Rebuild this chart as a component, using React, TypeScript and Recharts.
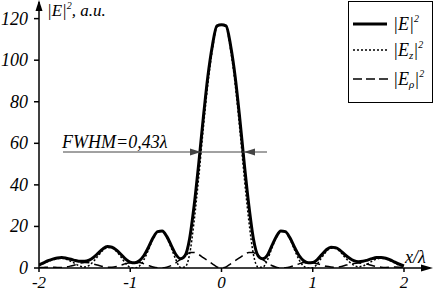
import { LineChart, Line, XAxis, YAxis } from 'recharts'

// x / lambda
const X = [
  -2, -1.95, -1.9, -1.85, -1.8, -1.75, -1.7, -1.65, -1.6, -1.55,
  -1.5, -1.45, -1.4, -1.35, -1.3, -1.25, -1.2, -1.15, -1.1, -1.05,
  -1, -0.95, -0.9, -0.85, -0.8, -0.75, -0.7, -0.65, -0.6, -0.55,
  -0.5, -0.45, -0.4, -0.35, -0.3, -0.25, -0.2, -0.15, -0.1, -0.05,
  0,
  0.05, 0.1, 0.15, 0.2, 0.25, 0.3, 0.35, 0.4, 0.45, 0.5,
  0.55, 0.6, 0.65, 0.7, 0.75, 0.8, 0.85, 0.9, 0.95, 1,
  1.05, 1.1, 1.15, 1.2, 1.25, 1.3, 1.35, 1.4, 1.45, 1.5,
  1.55, 1.6, 1.65, 1.7, 1.75, 1.8, 1.85, 1.9, 1.95, 2,
]

// |E|^2
const E_TOTAL = [
  1.5, 2.5, 3.5, 4.3, 4.8, 5, 4.7, 4.2, 3.6, 3.2,
  3.2, 3.8, 5.2, 7.2, 9.2, 10.3, 10, 8.6, 6.5, 4.3,
  2.8, 2.5, 3.5, 6, 10, 14.5, 17.5, 17.8, 15.2, 10.8,
  6.5, 4.5, 6, 14, 30, 50, 72, 92, 107, 116.5,
  117,
  116.5, 107, 92, 72, 50, 30, 14, 6, 4.5, 6,
  10.5, 15, 17.8, 17.5, 14.5, 10, 6, 3.5, 2.5, 2.6,
  4, 6.5, 8.8, 10, 9.8, 8.5, 6.5, 4.8, 3.5, 3,
  3.2, 3.8, 4.5, 5, 5.1, 4.7, 3.9, 2.8, 1.8, 1,
]

// |Ez|^2
const E_Z = [
  1.3, 2.2, 3.1, 3.9, 4.5, 4.7, 4.2, 3.2, 2, 0.9,
  0.5, 1.3, 3.3, 5.9, 8.5, 9.9, 9.6, 7.9, 5.2, 2.2,
  0.3, 0, 0.9, 4, 8.8, 14, 17.4, 17.8, 14.8, 9.6,
  4, 0.3, 0.5, 6.5, 22.5, 43.5, 67, 88.5, 105, 116,
  117,
  116, 105, 88.5, 67, 43.5, 22.5, 6.5, 0.5, 0.3, 3.5,
  9.3, 14.6, 17.8, 17.4, 14, 8.8, 4, 0.9, 0, 0.1,
  2, 5.1, 8, 9.5, 9.4, 7.9, 5.3, 3, 1.3, 0.6,
  1, 2, 3.3, 4.3, 4.7, 4.4, 3.5, 2.3, 1.4, 0.8,
]

// |Erho|^2
const E_RHO = [
  0.2, 0.3, 0.4, 0.4, 0.3, 0.3, 0.5, 1, 1.6, 2.3,
  2.7, 2.5, 1.9, 1.3, 0.7, 0.4, 0.4, 0.7, 1.3, 2.1,
  2.5, 2.5, 2.6, 2, 1.2, 0.5, 0.1, 0, 0.4, 1.2,
  2.5, 4.2, 5.5, 7.5, 7.5, 6.5, 5, 3.5, 2, 0.5,
  0,
  0.5, 2, 3.5, 5, 6.5, 7.5, 7.5, 5.5, 4.2, 2.5,
  1.2, 0.4, 0, 0.1, 0.5, 1.2, 2, 2.6, 2.5, 2.5,
  2, 1.4, 0.8, 0.5, 0.4, 0.6, 1.2, 1.8, 2.2, 2.4,
  2.2, 1.8, 1.2, 0.7, 0.4, 0.3, 0.4, 0.5, 0.4, 0.2,
]

const X_TICKS = [-2, -1, 0, 1, 2]
const Y_TICKS = [0, 20, 40, 60, 80, 100, 120]

const data = X.map((x, i) => ({ x, e: E_TOTAL[i], ez: E_Z[i], er: E_RHO[i] }))

const serif = { fontFamily: '"Liberation Serif", "Times New Roman", Times, serif', fontStyle: 'italic' }

function XTick(props: any) {
  const { x, y, payload } = props
  return (
    <g>
      <text x={x} y={y + 11} textAnchor="middle" fontSize={17} fill="#000" style={serif}>
        {payload.value}
      </text>
    </g>
  )
}

function YTick(props: any) {
  const { x, y, payload } = props
  return (
    <g>
      <text x={x} y={y + 6} textAnchor="end" fontSize={18} fill="#000" style={serif}>
        {payload.value}
      </text>
    </g>
  )
}

function Overlay() {
  return (
    <svg
      width={434}
      height={292}
      style={{ position: 'absolute', left: 0, top: 0, pointerEvents: 'none' }}
    >
      {/* axis arrows */}
      <polygon points="39,0 35.5,11 42.5,11" fill="#000" />
      <polygon points="433,268 421,264.5 421,271.5" fill="#000" />

      <text x={47} y={16} fontSize={17} fill="#000" style={serif}>
        |E|<tspan dy={-7} fontSize={10}>2</tspan>
        <tspan dy={7}>, a.u.</tspan>
      </text>
      <text x={405} y={263} fontSize={18} fill="#000" style={serif}>x/λ</text>

      {/* FWHM marker */}
      <text x={62} y={148} fontSize={18} fill="#000" style={serif}>FWHM=0,43λ</text>
      <line x1={63} y1={152} x2={267} y2={152} stroke="#444" strokeWidth={1} />
      <polygon points="201,152 190,148.5 190,155.5" fill="#444" />
      <polygon points="244,152 255,148.5 255,155.5" fill="#444" />

      {/* legend */}
      <rect x={348.5} y={1.5} width={84} height={101} fill="#fff" stroke="#000" strokeWidth={1} />
      <line x1={353} y1={24} x2={387} y2={24} stroke="#000" strokeWidth={3} />
      <line x1={353} y1={50} x2={387} y2={50} stroke="#000" strokeWidth={1.3} strokeDasharray="2 2" />
      <line x1={353} y1={79} x2={389} y2={79} stroke="#000" strokeWidth={1.5} strokeDasharray="9 4" />
      <text x={393} y={30} fontSize={18} fill="#000" style={serif}>
        |E|<tspan dy={-8} fontSize={10}>2</tspan>
      </text>
      <text x={393} y={56} fontSize={18} fill="#000" style={serif}>
        |E<tspan dy={3} fontSize={11}>z</tspan>
        <tspan dy={-3}>|</tspan>
        <tspan dy={-8} fontSize={10}>2</tspan>
      </text>
      <text x={393} y={85} fontSize={18} fill="#000" style={serif}>
        |E<tspan dy={3} fontSize={11}>ρ</tspan>
        <tspan dy={-3}>|</tspan>
        <tspan dy={-8} fontSize={10}>2</tspan>
      </text>
    </svg>
  )
}

export default function App() {
  return (
    <div style={{ position: 'absolute', left: 0, top: 0, width: 434, height: 292, background: '#fff', fontFamily: '"Liberation Serif", serif' }}>
      <LineChart
        width={434}
        height={292}
        data={data}
        margin={{ top: 2, right: 4, bottom: 0, left: 0 }}
      >
        <XAxis
          dataKey="x"
          type="number"
          domain={[-2, 2.285]}
          allowDataOverflow
          ticks={X_TICKS}
          tick={XTick}
          tickSize={4}
          tickMargin={5}
          height={24}
          stroke="#000"
          strokeWidth={1.5}
        />
        <YAxis
          type="number"
          domain={[0, 128]}
          allowDataOverflow
          ticks={Y_TICKS}
          tick={YTick}
          tickSize={5}
          tickMargin={6}
          width={39}
          stroke="#000"
          strokeWidth={1.5}
        />
        <Line
          type="monotone"
          dataKey="er"
          stroke="#000"
          strokeWidth={1.5}
          strokeDasharray="9 5"
          dot={false}
          isAnimationActive={false}
        />
        <Line
          type="monotone"
          dataKey="ez"
          stroke="#000"
          strokeWidth={1.5}
          strokeDasharray="2 2"
          dot={false}
          isAnimationActive={false}
        />
        <Line
          type="monotone"
          dataKey="e"
          stroke="#000"
          strokeWidth={3}
          dot={false}
          isAnimationActive={false}
        />
      </LineChart>
      <Overlay />
    </div>
  )
}
